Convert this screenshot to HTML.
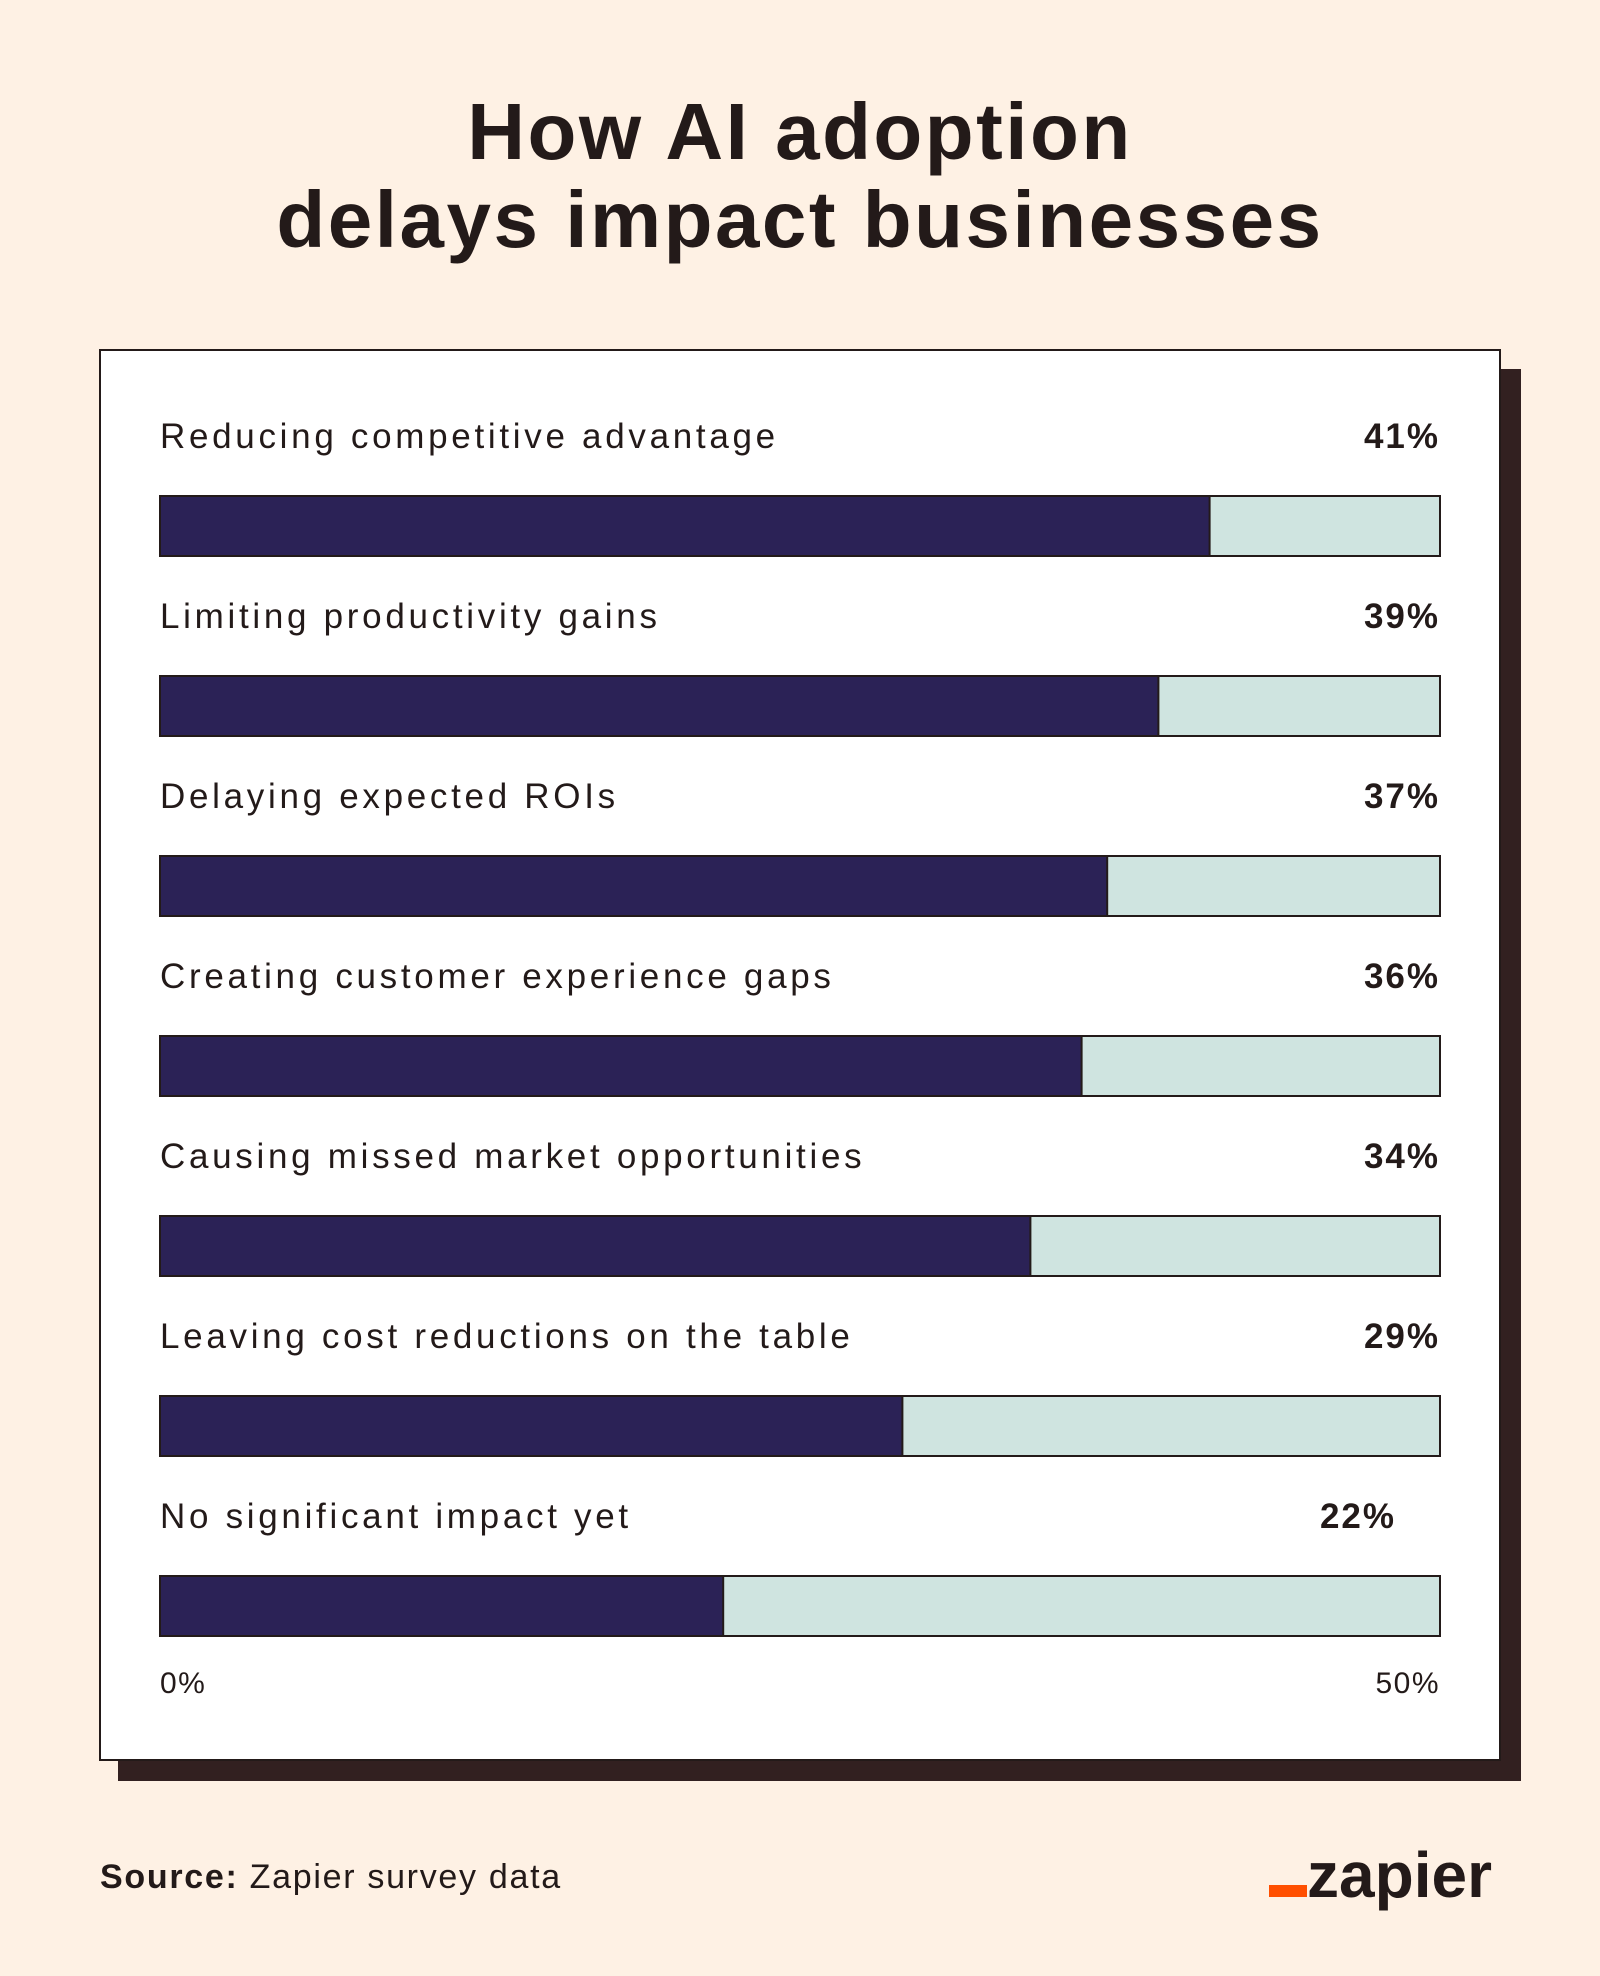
<!DOCTYPE html>
<html><head><meta charset="utf-8"><style>
body{margin:0;width:1600px;height:1976px;background:#fef1e4;font-family:"Liberation Sans",sans-serif;color:#231a19;position:relative;overflow:hidden}
.t{position:absolute;left:0;width:1600px;text-align:center;font-weight:bold;font-size:80px;letter-spacing:2.5px;line-height:88px}
</style></head><body>
<div class="t" style="top:88px">How AI adoption<br>delays impact businesses</div>
<div style="position:absolute;left:118px;top:369px;width:1403px;height:1412px;background:#322020"></div>
<div style="position:absolute;left:99px;top:349px;width:1398px;height:1408px;background:#fff;border:2px solid #231a19"></div>
<svg id="chart" width="1600" height="1976" style="position:absolute;left:0;top:0"></svg>
<div style="position:absolute;left:100px;top:1858px;font-size:34px;letter-spacing:1.7px"><b>Source:</b> Zapier survey data</div>
<div style="position:absolute;left:1269px;top:1838px;font-size:64px;font-weight:bold;letter-spacing:0px"><span style="display:inline-block;width:38px;height:12px;background:#ff4f00;margin-right:0"></span>zapier</div>
<script>
const categories=["Reducing competitive advantage","Limiting productivity gains","Delaying expected ROIs","Creating customer experience gaps","Causing missed market opportunities","Leaving cost reductions on the table","No significant impact yet"];
const values=[41,39,37,36,34,29,22];
const valueLabels=["41%","39%","37%","36%","34%","29%","22%"];
const axisTicks=["0%","50%"];
const axisMax=50;
const svg=document.getElementById('chart');
const NS='http://www.w3.org/2000/svg';
const x0=160,x1=1440,y0=496,step=180,bh=60;
const xs=v=>x0+(x1-x0)*v/axisMax;
function mk(tag,attrs){const e=document.createElementNS(NS,tag);for(const k in attrs)e.setAttribute(k,attrs[k]);svg.appendChild(e);return e;}
categories.forEach((c,i)=>{
  const y=y0+i*step;
  const l=mk('text',{x:x0,y:y-48,'font-size':35,'letter-spacing':3.7,fill:'#231a19','font-family':'Liberation Sans'});l.textContent=c;
  
  
  const last=i===categories.length-1;
  const v=mk('text',{x:last?1396:x1,y:y-48,'font-size':35,'letter-spacing':2,'font-weight':'bold','text-anchor':'end',fill:'#231a19','font-family':'Liberation Sans'});v.textContent=valueLabels[i];
  
  
  const bg=mk('rect',{x:x0,y:y,width:x1-x0,height:bh,fill:'#cfe4e0',stroke:'#231a19','stroke-width':2});
  
  
  const b=mk('rect',{x:x0,y:y,width:xs(values[i])-x0,height:bh,fill:'#2b2256',stroke:'#231a19','stroke-width':2});
  
  
});
axisTicks.forEach((t,i)=>{
  const e=mk('text',{x:i?x1:x0,y:1693,'font-size':30,'letter-spacing':1.5,'text-anchor':i?'end':'start',fill:'#231a19','font-family':'Liberation Sans'});e.textContent=t;
  
  
});
</script>
</body></html>
